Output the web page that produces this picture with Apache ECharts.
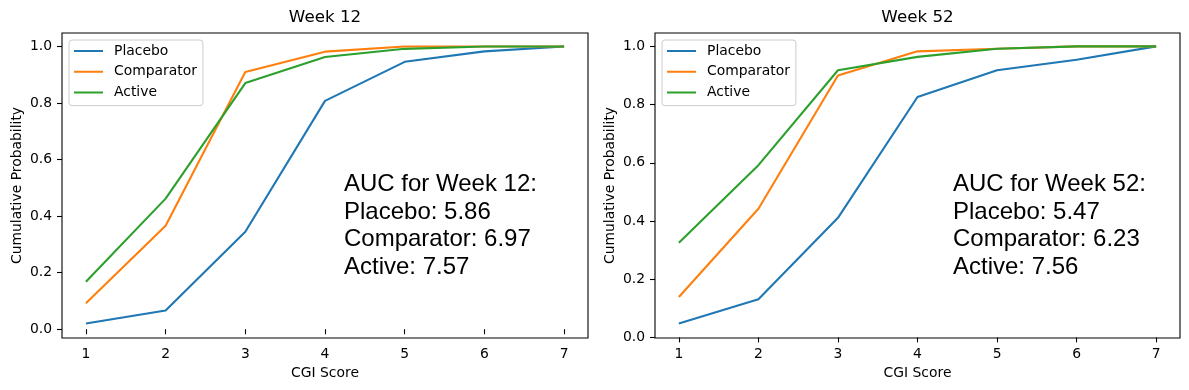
<!DOCTYPE html>
<html>
<head>
<meta charset="utf-8">
<script src="https://cdn.jsdelivr.net/npm/echarts@6/dist/echarts.min.js"></script>
<style>
  html, body { margin: 0; padding: 0; background: #ffffff; }
  #chart { width: 1189px; height: 390px; }
</style>
</head>
<body>
<div id="chart"></div>
<script>
// ---- data ----
const cgiScores = [1, 2, 3, 4, 5, 6, 7];
const seriesNames = ['Placebo', 'Comparator', 'Active'];
const panelTitles = ['Week 12', 'Week 52'];

const week12Placebo    = [0.020, 0.066, 0.345, 0.808, 0.946, 0.983, 1.000];
const week12Comparator = [0.092, 0.366, 0.910, 0.982, 1.000, 1.000, 1.000];
const week12Active     = [0.168, 0.462, 0.871, 0.963, 0.992, 1.000, 1.000];

const week52Placebo    = [0.048, 0.131, 0.411, 0.826, 0.918, 0.954, 1.000];
const week52Comparator = [0.139, 0.442, 0.900, 0.983, 0.992, 1.000, 1.000];
const week52Active     = [0.325, 0.592, 0.918, 0.964, 0.992, 1.000, 1.000];

const yTickValues = [0.0, 0.2, 0.4, 0.6, 0.8, 1.0];
const xTickValues = [1, 2, 3, 4, 5, 6, 7];

const auc12 = { Placebo: '5.86', Comparator: '6.97', Active: '7.57' };
const auc52 = { Placebo: '5.47', Comparator: '6.23', Active: '7.56' };

// ---- styling ----
const colors = ['#1f77b4', '#ff7f0e', '#2ca02c'];
const font = 'DejaVu Sans';
const fs = 13.9;
// thin horizontal line icon (degenerate sub-paths keep the 29x14 bounding box)
const lineIcon = 'path://M0,0L0.001,0Z M0,14L0.001,14Z M0,6L29,6L29,8L0,8Z';

const panels = [
  { grid: { left: 62, top: 33, width: 526, height: 305 }, yMin: -0.031, yMax: 1.048,
    data: [week12Placebo, week12Comparator, week12Active], auc: auc12, label: 'Week 12', textX: 344 },
  { grid: { left: 655, top: 33, width: 525, height: 305 }, yMin: -0.002, yMax: 1.046,
    data: [week52Placebo, week52Comparator, week52Active], auc: auc52, label: 'Week 52', textX: 953 }
];

const option = {
  animation: false,
  backgroundColor: '#ffffff',
  title: panels.map((p, i) => ({
    text: panelTitles[i],
    left: p.grid.left + p.grid.width / 2 - 5,
    top: 4,
    textAlign: 'center',
    textStyle: { fontFamily: font, fontSize: 16.7, fontWeight: 'normal', color: '#000' }
  })),
  legend: panels.map((p, i) => ({
    data: seriesNames.map(n => ({ name: n, icon: lineIcon })),
    orient: 'vertical',
    left: p.grid.left + 7,
    top: 40,
    itemWidth: 29,
    itemHeight: 14,
    itemGap: 6.8,
    padding: [4, 6, 6, 5],
    backgroundColor: 'rgba(255,255,255,0.8)',
    borderColor: '#cccccc',
    borderWidth: 1,
    borderRadius: 3,
    selectedMode: false,
    itemStyle: { borderWidth: 0 },
    textStyle: { fontFamily: font, fontSize: fs, color: '#000', padding: [0, 0, 0, 6] }
  })),
  grid: panels.map(p => Object.assign({ show: true, borderColor: '#000', borderWidth: 1.1, backgroundColor: 'transparent' }, p.grid)),
  xAxis: panels.map((p, i) => ({
    type: 'value', gridIndex: i, min: 0.7, max: 7.3,
    name: 'CGI Score', nameLocation: 'middle', nameGap: 28,
    nameTextStyle: { fontFamily: font, fontSize: fs, color: '#000' },
    axisLine: { show: false },
    axisTick: { show: true, length: 5, customValues: xTickValues, lineStyle: { color: '#000', width: 1.1 } },
    axisLabel: { customValues: xTickValues, fontFamily: font, fontSize: fs, color: '#000', margin: 9 },
    splitLine: { show: false }
  })),
  yAxis: panels.map((p, i) => ({
    type: 'value', gridIndex: i, min: p.yMin, max: p.yMax,
    name: 'Cumulative Probability', nameLocation: 'middle', nameGap: 38,
    nameTextStyle: { fontFamily: font, fontSize: fs, color: '#000' },
    axisLine: { show: false },
    axisTick: { show: true, length: 5, customValues: yTickValues, lineStyle: { color: '#000', width: 1.1 } },
    axisLabel: { customValues: yTickValues, fontFamily: font, fontSize: fs, color: '#000', margin: 10,
      formatter: v => v.toFixed(1) },
    splitLine: { show: false }
  })),
  series: [],
  graphic: panels.map(p => ({
    type: 'text',
    left: p.textX,
    top: 170.5,
    silent: true,
    style: {
      text: 'AUC for ' + p.label + ':\n' + seriesNames.map(n => n + ': ' + p.auc[n]).join('\n'),
      fontFamily: 'Liberation Sans',
      fontSize: 24,
      lineHeight: 27.7,
      fill: '#000'
    }
  }))
};

panels.forEach((p, i) => {
  seriesNames.forEach((name, k) => {
    option.series.push({
      name: name,
      type: 'line',
      xAxisIndex: i,
      yAxisIndex: i,
      data: cgiScores.map((x, j) => [x, p.data[k][j]]),
      showSymbol: false,
      symbol: 'none',
      lineStyle: { color: colors[k], width: 2.1 },
      itemStyle: { color: colors[k] },
      color: colors[k],
      z: 2 + k
    });
  });
});

const chart = echarts.init(document.getElementById('chart'), null, { renderer: 'canvas' });
chart.setOption(option);
</script>
</body>
</html>
